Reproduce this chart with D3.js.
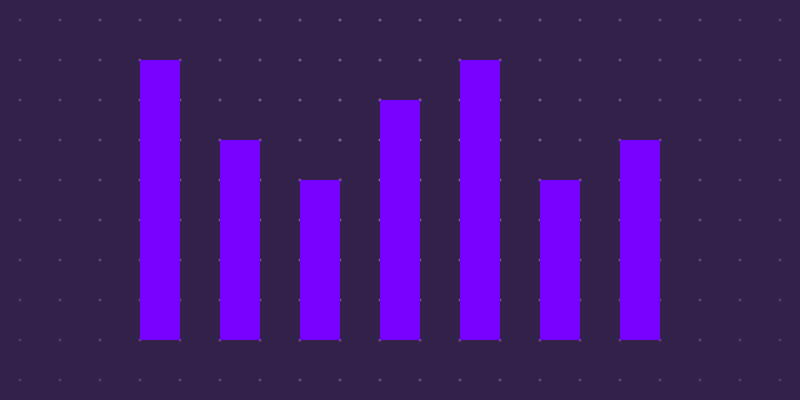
<!DOCTYPE html>
<html>
<head>
<meta charset="utf-8">
<script src="https://cdn.jsdelivr.net/npm/d3@7"></script>
<style>
  html, body { margin: 0; padding: 0; background: #33214b; }
  svg { display: block; }
</style>
</head>
<body>
<div id="chart"></div>
<script>
// chart data
var categories = ["A", "B", "C", "D", "E", "F", "G"];
var values = [7, 5, 4, 6, 7, 4, 5];

// set svg vars
var svgWidth = 800;
var svgHeight = 400;

var svg = d3.select("#chart")
  .append("svg")
  .attr("width", svgWidth)
  .attr("height", svgHeight);

svg.append("rect")
  .attr("width", svgWidth)
  .attr("height", svgHeight)
  .attr("fill", "#33214b");

// dot grid, fading out from the middle
var gridX = d3.range(20, svgWidth, 40);
var gridY = d3.range(20, svgHeight, 40);
var dots = [];
gridY.forEach(function(y) {
  gridX.forEach(function(x) { dots.push({x: x, y: y}); });
});

var fade = d3.scaleLinear()
  .domain([0, 200, 420])
  .range([0.75, 0.5, 0.22])
  .clamp(true);

svg.append("g")
  .selectAll("circle")
  .data(dots)
  .enter()
  .append("circle")
  .attr("cx", d => d.x)
  .attr("cy", d => d.y)
  .attr("r", 1.6)
  .attr("fill", "#9a7cc0")
  .attr("opacity", d => fade(Math.hypot((d.x - 400) * 0.8, d.y - 130)));

// scales
var xScale = d3.scaleBand()
  .domain(categories)
  .range([100, 700])
  .paddingInner(0.5)
  .paddingOuter(0.5);

var yScale = d3.scaleLinear()
  .domain([0, 8])
  .range([340, 20]);

// bars
svg.append("g")
  .selectAll("rect")
  .data(values)
  .enter()
  .append("rect")
  .attr("x", (d, i) => xScale(categories[i]))
  .attr("y", d => yScale(d))
  .attr("width", xScale.bandwidth())
  .attr("height", d => yScale(0) - yScale(d))
  .attr("fill", "#7700ff");
</script>
</body>
</html>
